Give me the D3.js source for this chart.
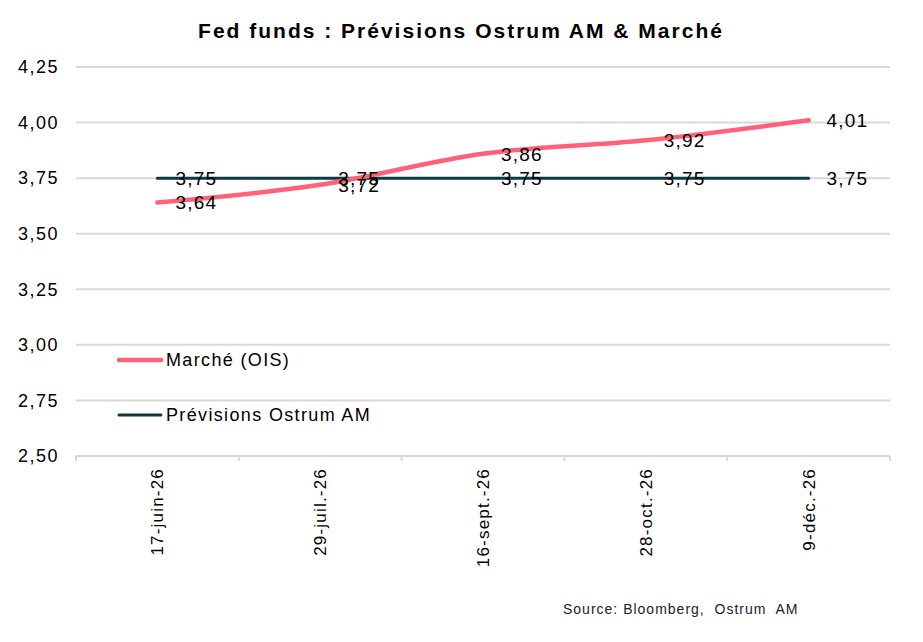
<!DOCTYPE html>
<html>
<head>
<meta charset="utf-8">
<script src="https://cdn.jsdelivr.net/npm/d3@7"></script>
<style>
    body { margin: 0; background: #fff; }
    svg { font-family: "Liberation Sans", Arial, sans-serif; }
</style>
</head>
<body>
<main></main>
<script>
const dates = ['17-juin-26', '29-juil.-26', '16-sept.-26', '28-oct.-26', '9-déc.-26'];
const marche = [3.64, 3.72, 3.86, 3.92, 4.01];
const ostrum = [3.75, 3.75, 3.75, 3.75, 3.75];
const yTicks = [2.5, 2.75, 3.0, 3.25, 3.5, 3.75, 4.0, 4.25];

const series = [
    { name: 'Marché (OIS)', values: marche, color: '#ff6179', width: 4.5 },
    { name: 'Prévisions Ostrum AM', values: ostrum, color: '#0e3a44', width: 3 },
];

const width = 923;
const height = 642;
const plotLeft = 76, plotRight = 890, plotTop = 67, plotBottom = 456;

const fmt = v => d3.format('.2f')(v).replace('.', ',');

const x = d3.scaleBand().domain(dates).range([plotLeft, plotRight]);
const y = d3.scaleLinear().domain([2.5, 4.25]).range([plotBottom, plotTop]);

const svg = d3.select('main')
    .append('svg')
    .attr('width', width)
    .attr('height', height);

svg.append('text')
    .attr('x', 461)
    .attr('y', 38)
    .attr('text-anchor', 'middle')
    .attr('font-size', 21)
    .attr('font-weight', 'bold')
    .attr('letter-spacing', 2)
    .text('Fed funds : Prévisions Ostrum AM & Marché');

// grid
svg.append('g')
    .selectAll('line')
    .data(yTicks)
    .enter()
    .append('line')
    .attr('x1', plotLeft)
    .attr('x2', plotRight)
    .attr('y1', d => y(d))
    .attr('y2', d => y(d))
    .attr('stroke', '#d9d9d9')
    .attr('stroke-width', 2);

// y axis labels
svg.append('g')
    .selectAll('text')
    .data(yTicks)
    .enter()
    .append('text')
    .attr('x', 59)
    .attr('y', d => y(d))
    .attr('dy', '0.35em')
    .attr('text-anchor', 'end')
    .attr('font-size', 18)
    .attr('letter-spacing', 1.5)
    .attr('fill', '#000')
    .text(fmt);

// x axis tick marks
const edges = dates.map(d => x(d)).concat([plotRight]);
svg.append('g')
    .selectAll('line')
    .data(edges)
    .enter()
    .append('line')
    .attr('x1', d => d)
    .attr('x2', d => d)
    .attr('y1', plotBottom)
    .attr('y2', plotBottom + 5)
    .attr('stroke', '#d9d9d9')
    .attr('stroke-width', 2);

// x labels
svg.append('g')
    .selectAll('text')
    .data(dates)
    .enter()
    .append('text')
    .attr('text-anchor', 'end')
    .attr('font-size', 17)
    .attr('letter-spacing', 1.2)
    .attr('transform', d => `translate(${x(d) + x.bandwidth() / 2 + 6} 468) rotate(-90)`)
    .text(d => d);

const line = d3.line()
    .x((d, i) => x(dates[i]) + x.bandwidth() / 2)
    .y(d => y(d))
    .curve(d3.curveCatmullRom.alpha(0.5));

// ostrum first, then marché on top
[series[1], series[0]].forEach(s => {
    svg.append('path')
        .attr('d', line(s.values))
        .attr('fill', 'none')
        .attr('stroke', s.color)
        .attr('stroke-width', s.width)
        .attr('stroke-linecap', 'round');
});

series.forEach(s => {
    svg.append('g')
        .selectAll('text')
        .data(s.values)
        .enter()
        .append('text')
        .attr('x', (d, i) => x(dates[i]) + x.bandwidth() / 2 + 18)
        .attr('y', d => y(d))
        .attr('dy', '0.36em')
        .attr('font-size', 19)
        .attr('letter-spacing', 1.2)
        .attr('fill', '#000')
        .text(fmt);
});

// legend
const legend = svg.append('g')
    .selectAll('g')
    .data(series)
    .enter()
    .append('g')
    .attr('transform', (d, i) => `translate(119 ${360 + i * 55})`);

legend.append('line')
    .attr('x1', 0)
    .attr('x2', 42)
    .attr('stroke', d => d.color)
    .attr('stroke-width', d => d.width)
    .attr('stroke-linecap', 'round');

legend.append('text')
    .attr('x', 47)
    .attr('dy', '0.36em')
    .attr('font-size', 18)
    .attr('letter-spacing', 1.35)
    .text(d => d.name);

svg.append('text')
    .attr('x', 563)
    .attr('y', 614)
    .attr('font-size', 14)
    .attr('letter-spacing', 1)
    .attr('fill', '#222')
    .style('white-space', 'pre')
    .text('Source: Bloomberg,  Ostrum  AM');
</script>
</body>
</html>
